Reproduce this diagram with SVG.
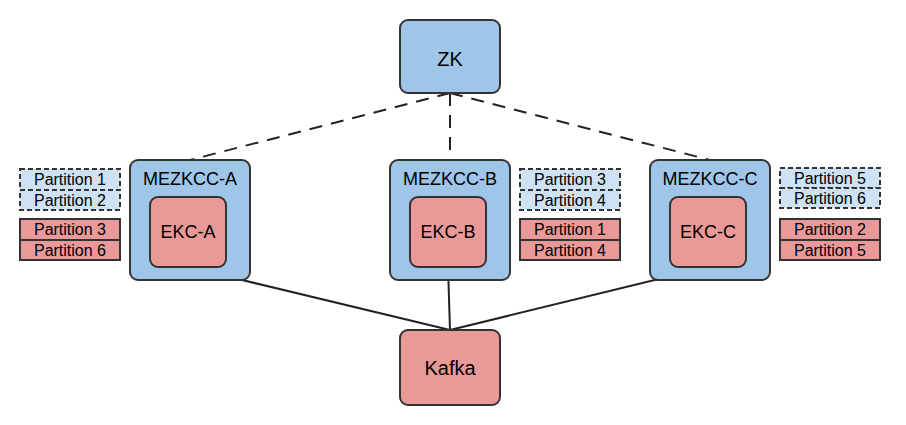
<svg xmlns="http://www.w3.org/2000/svg" width="906" height="425" viewBox="0 0 906 425">
<style>
text{font-family:"Liberation Sans",Arial,sans-serif;fill:#000;text-anchor:middle;dominant-baseline:central}
.blue{fill:#9fc5e8;stroke:#333;stroke-width:2}
.red{fill:#ea9999;stroke:#333;stroke-width:2}
.pd{fill:#cfe2f3;stroke:#333;stroke-width:2;stroke-dasharray:5,3}
.ps{fill:#ea9999;stroke:#333;stroke-width:2}
.big{font-size:20px}
.mid{font-size:18px}
.small{font-size:16px}
.dash{fill:none;stroke:#222;stroke-width:2;stroke-dasharray:13,9}
.solid{fill:none;stroke:#222;stroke-width:2}
</style>
<rect width="906" height="425" fill="#fff"/>
<g id="connectors">
<line class="dash" x1="450" y1="93" x2="190" y2="160"/>
<line class="dash" x1="450" y1="93" x2="450" y2="160"/>
<line class="dash" x1="450" y1="93" x2="710" y2="160"/>
<line class="solid" x1="188" y1="267" x2="450" y2="330"/>
<line class="solid" x1="448" y1="267" x2="450" y2="330"/>
<line class="solid" x1="708" y1="267" x2="450" y2="330"/>
</g>
<g id="zk"><rect class="blue" x="400" y="20" width="100" height="73" rx="8"/><text class="big" x="450" y="59">ZK</text></g>
<g id="kafka"><rect class="red" x="400" y="330" width="100" height="75" rx="8"/><text class="big" x="450" y="368">Kafka</text></g>
<g id="mezkcc-a"><rect class="blue" x="130" y="160" width="120" height="120" rx="8"/><text class="mid" x="190" y="179">MEZKCC-A</text></g>
<g id="ekc-a"><rect class="red" x="150" y="197" width="76" height="70" rx="8"/><text class="mid" x="188" y="232">EKC-A</text></g>
<g id="mezkcc-b"><rect class="blue" x="390" y="160" width="120" height="120" rx="8"/><text class="mid" x="450" y="179">MEZKCC-B</text></g>
<g id="ekc-b"><rect class="red" x="410" y="197" width="76" height="70" rx="8"/><text class="mid" x="448" y="232">EKC-B</text></g>
<g id="mezkcc-c"><rect class="blue" x="650" y="160" width="120" height="120" rx="8"/><text class="mid" x="710" y="179">MEZKCC-C</text></g>
<g id="ekc-c"><rect class="red" x="670" y="197" width="76" height="70" rx="8"/><text class="mid" x="708" y="232">EKC-C</text></g>
<g id="parts-a">
<rect class="pd" x="20" y="169" width="100" height="21"/><text class="small" x="70" y="179.5">Partition 1</text>
<rect class="pd" x="20" y="190" width="100" height="20"/><text class="small" x="70" y="200">Partition 2</text>
<rect class="ps" x="20" y="219" width="100" height="21"/><text class="small" x="70" y="229.5">Partition 3</text>
<rect class="ps" x="20" y="240" width="100" height="20"/><text class="small" x="70" y="250">Partition 6</text>
</g>
<g id="parts-b">
<rect class="pd" x="520" y="169" width="100" height="21"/><text class="small" x="570" y="179.5">Partition 3</text>
<rect class="pd" x="520" y="190" width="100" height="20"/><text class="small" x="570" y="200">Partition 4</text>
<rect class="ps" x="520" y="219" width="100" height="21"/><text class="small" x="570" y="229.5">Partition 1</text>
<rect class="ps" x="520" y="240" width="100" height="20"/><text class="small" x="570" y="250">Partition 4</text>
</g>
<g id="parts-c">
<rect class="pd" x="780" y="168" width="100" height="20"/><text class="small" x="830" y="178">Partition 5</text>
<rect class="pd" x="780" y="188" width="100" height="20"/><text class="small" x="830" y="198">Partition 6</text>
<rect class="ps" x="780" y="219" width="100" height="21"/><text class="small" x="830" y="229.5">Partition 2</text>
<rect class="ps" x="780" y="240" width="100" height="20"/><text class="small" x="830" y="250">Partition 5</text>
</g>
</svg>
